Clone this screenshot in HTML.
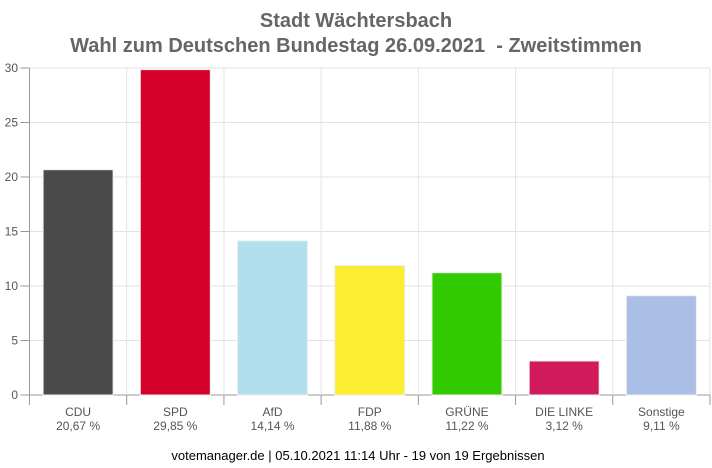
<!DOCTYPE html>
<html><head><meta charset="utf-8"><style>
body{margin:0;background:#fff;}
svg{display:block;font-family:"Liberation Sans",sans-serif;}
</style></head><body>
<svg id="c" width="712" height="468">
<text x="356" y="27" text-anchor="middle" font-size="20" font-weight="bold" fill="#666">Stadt Wächtersbach</text>
<text x="356" y="52" text-anchor="middle" font-size="20" font-weight="bold" fill="#666" style="white-space:pre">Wahl zum Deutschen Bundestag 26.09.2021 &#160;- Zweitstimmen</text>
<g id="grid"></g><g id="bars"></g><g id="axes"></g>
<text x="358" y="460" text-anchor="middle" font-size="13" fill="#000">votemanager.de | 05.10.2021 11:14 Uhr - 19 von 19 Ergebnissen</text>
</svg>
<script>
const categories=["CDU","SPD","AfD","FDP","GRÜNE","DIE LINKE","Sonstige"];
const values=[20.67,29.85,14.14,11.88,11.22,3.12,9.11];
const valueLabels=["20,67 %","29,85 %","14,14 %","11,88 %","11,22 %","3,12 %","9,11 %"];
const colors=["#4a4a4a","#d7002a","#b1dfee","#faed32","#31cb00","#d11a5c","#abbee6"];
const yTicks=[0,5,10,15,20,25,30];
const NS="http://www.w3.org/2000/svg";
const L=29.5,R=710,T=68,B=395,yMax=30;
const bw=(R-L)/categories.length;
const y=v=>B-(v/yMax)*(B-T);
const x=i=>L+i*bw;
function mk(tag,at,p,txt){const e=document.createElementNS(NS,tag);for(const k in at)e.setAttribute(k,at[k]);if(txt!=null)e.textContent=txt;p.appendChild(e);return e;}
const g=document.getElementById('grid'),b=document.getElementById('bars'),a=document.getElementById('axes');
yTicks.forEach(t=>{
  const ln=mk('line',{x1:L,x2:R,y1:y(t),y2:y(t),stroke:t===0?'#999':'#e3e3e3'},g);
  
  
  mk('line',{x1:L-9,x2:L,y1:y(t),y2:y(t),stroke:'#999'},a);
  const tx=mk('text',{x:18,y:y(t)+4,'text-anchor':'end','font-size':12,fill:'#555'},a,t);
  
  
});
for(let i=0;i<=categories.length;i++){
  mk('line',{x1:x(i),x2:x(i),y1:T,y2:B,stroke:i===0?'#999':'#e3e3e3'},g);
  mk('line',{x1:x(i),x2:x(i),y1:B,y2:B+10,stroke:'#999'},a);
}
categories.forEach((c,i)=>{
  const w=70,cx=x(i)+bw/2;
  const r=mk('rect',{x:cx-w/2,y:y(values[i]),width:w,height:B-y(values[i]),fill:colors[i],stroke:'#eee','stroke-width':1},b);
  
  
  const t1=mk('text',{x:cx,y:416,'text-anchor':'middle','font-size':12,fill:'#555'},a,c);
  
  
  const t2=mk('text',{x:cx,y:430,'text-anchor':'middle','font-size':12,fill:'#555'},a,valueLabels[i]);
  
  
});
</script>
</body></html>
